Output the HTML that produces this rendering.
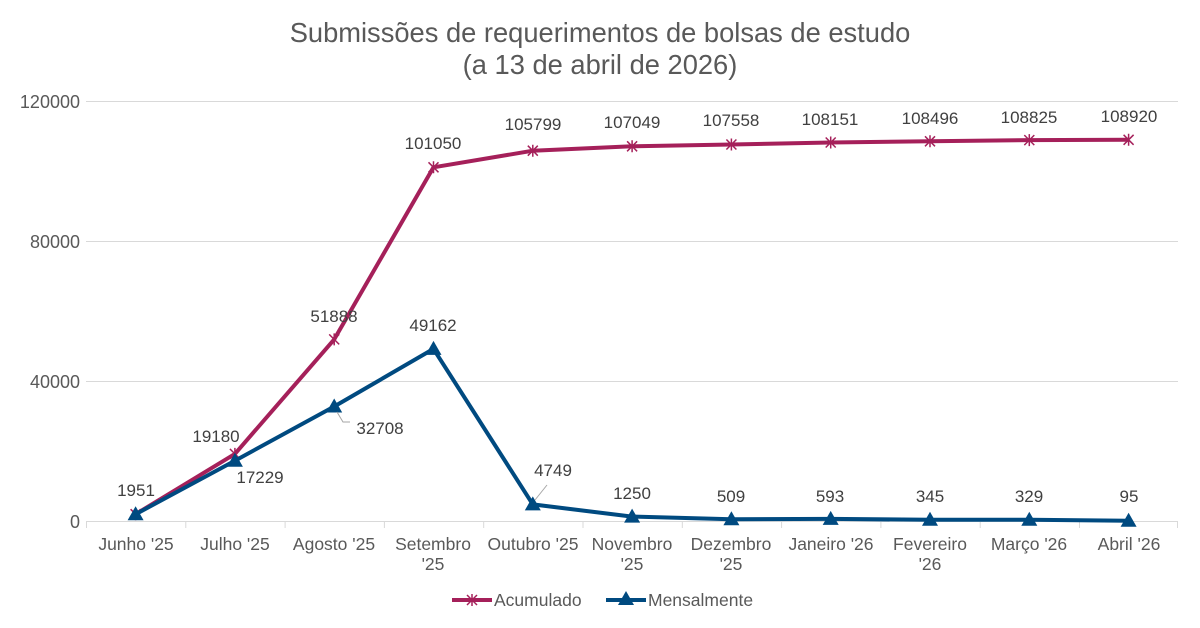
<!DOCTYPE html>
<html><head><meta charset="utf-8"><style>body{margin:0;background:#fff}svg{display:block}</style></head><body>
<svg width="1200" height="628" xmlns="http://www.w3.org/2000/svg" font-family="Liberation Sans, sans-serif">
<text x="600" y="42" font-size="27.3" fill="#595959" text-anchor="middle">Submissões de requerimentos de bolsas de estudo</text>
<text x="600" y="74" font-size="27.3" fill="#595959" text-anchor="middle">(a 13 de abril de 2026)</text>
<g stroke="#d9d9d9" stroke-width="1">
<line x1="86" y1="101.5" x2="1178" y2="101.5"/><line x1="86" y1="241.5" x2="1178" y2="241.5"/><line x1="86" y1="381.5" x2="1178" y2="381.5"/><line x1="86" y1="521.5" x2="1178" y2="521.5"/>
<path d="M86.5 521v7M185.8 521v7M285.1 521v7M384.4 521v7M483.7 521v7M583 521v7M682.3 521v7M781.6 521v7M880.9 521v7M980.2 521v7M1079.5 521v7M1177.5 521v7"/>
</g>
<g font-size="18" fill="#595959" text-anchor="end">
<text x="80" y="108">120000</text><text x="80" y="248">80000</text><text x="80" y="388">40000</text><text x="80" y="528">0</text>
</g>
<g font-size="17.5" fill="#595959" text-anchor="middle">
<text x="136" y="550">Junho '25</text><text x="235" y="550">Julho '25</text><text x="334" y="550">Agosto '25</text>
<text x="433" y="550">Setembro</text><text x="433" y="570">'25</text>
<text x="533" y="550">Outubro '25</text>
<text x="632" y="550">Novembro</text><text x="632" y="570">'25</text>
<text x="731" y="550">Dezembro</text><text x="731" y="570">'25</text>
<text x="831" y="550">Janeiro '26</text>
<text x="930" y="550">Fevereiro</text><text x="930" y="570">'26</text>
<text x="1029" y="550">Março '26</text><text x="1129" y="550">Abril '26</text>
</g>
<defs><path id="star" d="M-5,-5L5,5M-5,5L5,-5M0,-6V6" stroke="#A5205A" stroke-width="1.5" fill="none"/>
<path id="tri" d="M0,-8L8,6H-8Z" fill="#004A80"/></defs>
<polyline fill="none" stroke="#A5205A" stroke-width="4" stroke-linejoin="round" points="135.6,514.2 234.9,453.9 334.2,339.4 433.5,167.3 532.8,150.7 632.1,146.3 731.4,144.5 830.7,142.5 930,141.3 1029.3,140.1 1128.6,139.8"/>
<g>
<use href="#star" x="135.6" y="514.2"/><use href="#star" x="234.9" y="453.9"/><use href="#star" x="334.2" y="339.4"/><use href="#star" x="433.5" y="167.3"/><use href="#star" x="532.8" y="150.7"/><use href="#star" x="632.1" y="146.3"/><use href="#star" x="731.4" y="144.5"/><use href="#star" x="830.7" y="142.5"/><use href="#star" x="930" y="141.3"/><use href="#star" x="1029.3" y="140.1"/><use href="#star" x="1128.6" y="139.8"/>
</g>
<polyline fill="none" stroke="#004A80" stroke-width="4" stroke-linejoin="round" points="135.6,514.2 234.9,460.7 334.2,406.5 433.5,348.9 532.8,504.4 632.1,516.6 731.4,519.2 830.7,518.9 930,519.8 1029.3,519.8 1128.6,520.7"/>
<g>
<use href="#tri" x="135.6" y="514.2"/><use href="#tri" x="234.9" y="460.7"/><use href="#tri" x="334.2" y="406.5"/><use href="#tri" x="433.5" y="348.9"/><use href="#tri" x="532.8" y="504.4"/><use href="#tri" x="632.1" y="516.6"/><use href="#tri" x="731.4" y="519.2"/><use href="#tri" x="830.7" y="518.9"/><use href="#tri" x="930" y="519.8"/><use href="#tri" x="1029.3" y="519.8"/><use href="#tri" x="1128.6" y="520.7"/>
</g>
<path d="M337,412 L343,422 H350" stroke="#a6a6a6" fill="none"/>
<path d="M535,500 L547,485" stroke="#a6a6a6" fill="none"/>
<g font-size="17" fill="#404040" text-anchor="middle">
<text x="136" y="496">1951</text><text x="216" y="442">19180</text><text x="334" y="322">51888</text>
<text x="433" y="149">101050</text><text x="533" y="130">105799</text><text x="632" y="128">107049</text><text x="731" y="126">107558</text><text x="830" y="125">108151</text><text x="930" y="124">108496</text><text x="1029" y="123">108825</text><text x="1129" y="122">108920</text>
<text x="260" y="483">17229</text><text x="380" y="434">32708</text><text x="433" y="331">49162</text><text x="553" y="476">4749</text>
<text x="632" y="499">1250</text><text x="731" y="502">509</text><text x="830" y="502">593</text><text x="930" y="502">345</text><text x="1029" y="502">329</text><text x="1129" y="502">95</text>
</g>
<line x1="452" y1="600" x2="492" y2="600" stroke="#A5205A" stroke-width="4"/><use href="#star" x="472" y="600"/>
<text x="494" y="606" font-size="17.5" fill="#595959">Acumulado</text>
<line x1="606" y1="600" x2="646" y2="600" stroke="#004A80" stroke-width="4"/><use href="#tri" x="626" y="599"/>
<text x="648" y="606" font-size="17.5" fill="#595959">Mensalmente</text>
</svg>
</body></html>
